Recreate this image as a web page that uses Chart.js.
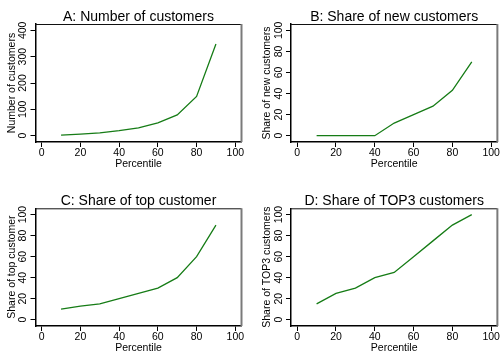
<!DOCTYPE html>
<html>
<head>
<meta charset="utf-8">
<script src="https://cdn.jsdelivr.net/npm/chart.js@4.4.1/dist/chart.umd.min.js"></script>
<style>
  html, body { margin: 0; padding: 0; background: #fff; }
  #wrap { position: relative; width: 500px; height: 351px; overflow: hidden; background: #fff; }
  canvas { position: absolute; }
</style>
</head>
<body>
<div id="wrap">
  <canvas id="cA" width="250" height="175" style="left:0px;top:0px"></canvas>
  <canvas id="cB" width="250" height="175" style="left:250px;top:0px"></canvas>
  <canvas id="cC" width="250" height="176" style="left:0px;top:175px"></canvas>
  <canvas id="cD" width="250" height="176" style="left:250px;top:175px"></canvas>
</div>
<script>
// Firm-size percentiles and the customer statistics plotted against them
const percentiles = [10, 20, 30, 40, 50, 60, 70, 80, 90];
const numCustomers = [2, 6, 11, 19, 30, 49, 79, 149, 348];
const shareNewCustomers = [0, 0, 0, 0, 12, 20, 28, 43, 70];
const shareTopCustomer = [10, 13, 15, 20, 25, 30, 40, 60, 90];
const shareTop3Customers = [15, 25, 30, 40, 45, 60, 75, 90, 100];

// Tick labels
const xTicks = [0, 20, 40, 60, 80, 100];
const yTicksCount = [0, 100, 200, 300, 400];
const yTicksShare = [0, 20, 40, 60, 80, 100];

const FONT = '"Liberation Sans", Arial, Helvetica, sans-serif';
const LINE_COLOR = 'rgb(22,124,22)';

// Decorations: panel title, axis titles, rotated y tick labels, plot frame
const panelText = {
  id: 'panelText',
  afterDraw(chart, args, opts) {
    const ctx = chart.ctx;
    const a = chart.chartArea;
    const ys = chart.scales.y;
    ctx.save();
    ctx.fillStyle = '#000';

    // frame: top and right edges of the plot region
    ctx.strokeStyle = '#111';
    ctx.lineWidth = 1;
    ctx.beginPath();
    ctx.moveTo(a.left, a.top + 0.5);
    ctx.lineTo(a.right, a.top + 0.5);
    ctx.stroke();
    ctx.strokeStyle = '#7a7a7a';
    ctx.lineWidth = 2;
    ctx.beginPath();
    ctx.moveTo(a.right, a.top);
    ctx.lineTo(a.right, a.bottom);
    ctx.stroke();

    // panel title
    ctx.font = '14px ' + FONT;
    ctx.textAlign = 'center';
    ctx.textBaseline = 'alphabetic';
    ctx.fillText(opts.title, (a.left + a.right) / 2, a.top - 3.5);

    // x axis title
    ctx.font = '10.5px ' + FONT;
    ctx.textBaseline = 'middle';
    ctx.fillText(opts.xTitle, (a.left + a.right) / 2, a.bottom + 22);

    // y axis title (rotated)
    ctx.save();
    ctx.translate(a.left - 23.5, (a.top + a.bottom) / 2);
    ctx.rotate(-Math.PI / 2);
    ctx.fillText(opts.yTitle, 0, 0);
    ctx.restore();

    // y tick labels (rotated)
    ys.ticks.forEach(t => {
      const py = ys.getPixelForValue(t.value);
      ctx.save();
      ctx.translate(a.left - 12, py);
      ctx.rotate(-Math.PI / 2);
      ctx.fillText(String(t.value), 0, 0);
      ctx.restore();
    });
    ctx.restore();
  }
};

function makePanel(id, values, yTickVals, yMin, yMax, box, texts) {
  const canvas = document.getElementById(id);
  const W = canvas.width, H = canvas.height;
  return new Chart(canvas, {
    type: 'line',
    data: {
      datasets: [{
        data: percentiles.map((p, i) => ({ x: p, y: values[i] })),
        borderColor: LINE_COLOR,
        borderWidth: 1.3,
        pointRadius: 0,
        tension: 0,
        fill: false
      }]
    },
    options: {
      responsive: false,
      animation: false,
      devicePixelRatio: 1,
      layout: { padding: { left: 0, top: box.top, right: W - box.right, bottom: 0 } },
      plugins: {
        legend: { display: false },
        tooltip: { enabled: false },
        panelText: texts
      },
      scales: {
        x: {
          type: 'linear',
          min: -3.2,
          max: 103.2,
          afterBuildTicks: s => { s.ticks = xTicks.map(v => ({ value: v })); },
          afterFit: s => { s.height = H - box.bottom; },
          grid: { drawOnChartArea: false, drawTicks: true, tickLength: 5, color: '#000', lineWidth: 1 },
          border: { display: true, color: '#000', width: 1.5 },
          ticks: { font: { family: FONT, size: 10.5 }, color: '#000', padding: 0, maxRotation: 0 }
        },
        y: {
          type: 'linear',
          min: yMin,
          max: yMax,
          afterBuildTicks: s => { s.ticks = yTickVals.map(v => ({ value: v })); },
          afterFit: s => { s.width = box.left; },
          grid: { drawOnChartArea: false, drawTicks: true, tickLength: 5, color: '#000', lineWidth: 1 },
          border: { display: true, color: '#000', width: 1.5 },
          ticks: { display: false }
        }
      }
    },
    plugins: [panelText]
  });
}

makePanel('cA', numCustomers, yTicksCount, -24, 424,
  { left: 35.5, top: 24, right: 241.5, bottom: 142 },
  { title: 'A: Number of customers', xTitle: 'Percentile', yTitle: 'Number of customers' });

makePanel('cB', shareNewCustomers, yTicksShare, -6, 106,
  { left: 41, top: 24, right: 247.7, bottom: 142 },
  { title: 'B: Share of new customers', xTitle: 'Percentile', yTitle: 'Share of new customers' });

makePanel('cC', shareTopCustomer, yTicksShare, -6, 106,
  { left: 35.5, top: 33.3, right: 241.5, bottom: 151 },
  { title: 'C: Share of top customer', xTitle: 'Percentile', yTitle: 'Share of top customer' });

makePanel('cD', shareTop3Customers, yTicksShare, -6, 106,
  { left: 41, top: 33.3, right: 247.7, bottom: 151 },
  { title: 'D: Share of TOP3 customers', xTitle: 'Percentile', yTitle: 'Share of TOP3 customers' });
</script>
</body>
</html>
